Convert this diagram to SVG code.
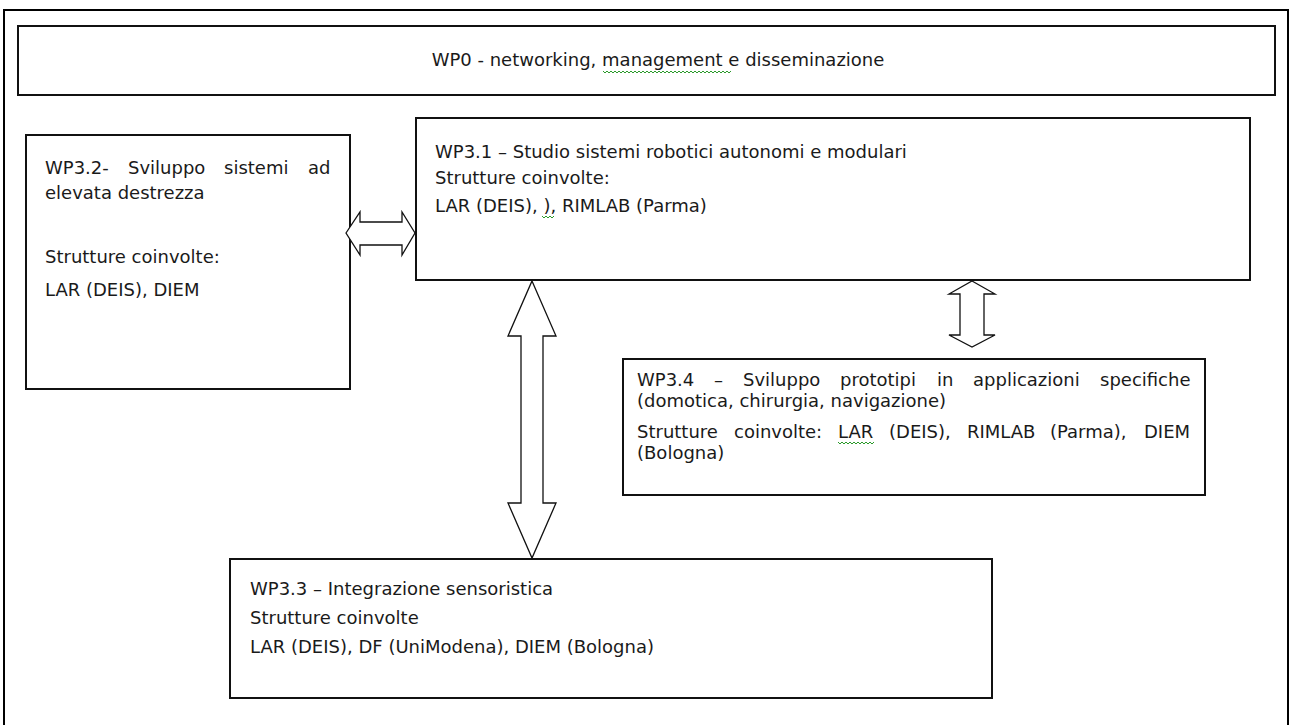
<svg xmlns="http://www.w3.org/2000/svg" width="1292" height="725" viewBox="0 0 1292 725">
<style>
.box{fill:#fff;stroke:#111;stroke-width:2}
.frame{fill:#fff;stroke:#000;stroke-width:2}
.arr{fill:#fff;stroke:#111;stroke-width:1.3;stroke-linejoin:miter}
text{font-family:"DejaVu Sans","Liberation Sans",sans-serif;font-size:18px;fill:#1a1a1a}
.sq{fill:none;stroke:#2a9a2a;stroke-width:1}
</style>
<rect class="frame" x="4" y="10" width="1284" height="730"/>
<g id="wp0">
<rect class="box" x="18" y="26" width="1257" height="69"/>
<text x="658" y="66" text-anchor="middle">WP0 - networking, management e disseminazione</text>
<path class="sq" d="M603 71 l2 2 l2 -2 l2 2 l2 -2 l2 2 l2 -2 l2 2 l2 -2 l2 2 l2 -2 l2 2 l2 -2 l2 2 l2 -2 l2 2 l2 -2 l2 2 l2 -2 l2 2 l2 -2 l2 2 l2 -2 l2 2 l2 -2 l2 2 l2 -2 l2 2 l2 -2 l2 2 l2 -2 l2 2 l2 -2 l2 2 l2 -2 l2 2 l2 -2 l2 2 l2 -2 l2 2 l2 -2 l2 2 l2 -2 l2 2 l2 -2 l2 2 l2 -2 l2 2 l2 -2 l2 2 l2 -2 l2 2 l2 -2 l2 2 l2 -2 l2 2 l2 -2 l2 2 l2 -2 l2 2 l2 -2 l2 2 l2 -2 l2 2 l2 -2"/>
</g>
<g id="wp31">
<rect class="box" x="416" y="118" width="834" height="162"/>
<text x="435" y="158">WP3.1 – Studio sistemi robotici autonomi e modulari</text>
<text x="435" y="184">Strutture coinvolte:</text>
<text x="435" y="212">LAR (DEIS), ), RIMLAB (Parma)</text>
<path class="sq" d="M542 216 l2 2 l2 -2 l2 2 l2 -2 l2 2 l2 -2"/>
</g>
<g id="wp32">
<rect class="box" x="26" y="135" width="324" height="254"/>
<text y="174"><tspan x="45">WP3.2-</tspan> <tspan x="128">Sviluppo</tspan> <tspan x="224">sistemi</tspan> <tspan x="308">ad</tspan></text>
<text x="45" y="199">elevata destrezza</text>
<text x="45" y="263">Strutture coinvolte:</text>
<text x="45" y="296">LAR (DEIS), DIEM</text>
</g>
<g id="wp34">
<rect class="box" x="623" y="359" width="582" height="136"/>
<text y="386"><tspan x="637">WP3.4</tspan> <tspan x="714">–</tspan> <tspan x="743">Sviluppo</tspan> <tspan x="840">prototipi</tspan> <tspan x="937">in</tspan> <tspan x="973">applicazioni</tspan> <tspan x="1100">specifiche</tspan></text>
<text x="637" y="407">(domotica, chirurgia, navigazione)</text>
<text y="438"><tspan x="637">Strutture</tspan> <tspan x="734">coinvolte:</tspan> <tspan x="838">LAR</tspan> <tspan x="889">(DEIS),</tspan> <tspan x="967">RIMLAB</tspan> <tspan x="1050">(Parma),</tspan> <tspan x="1144">DIEM</tspan></text>
<text x="637" y="459">(Bologna)</text>
<path class="sq" d="M838 442 l2 2 l2 -2 l2 2 l2 -2 l2 2 l2 -2 l2 2 l2 -2 l2 2 l2 -2 l2 2 l2 -2 l2 2 l2 -2 l2 2 l2 -2 l2 2 l2 -2"/>
</g>
<g id="wp33">
<rect class="box" x="230" y="559" width="762" height="139"/>
<text x="250" y="595">WP3.3 – Integrazione sensoristica</text>
<text x="250" y="624">Strutture coinvolte</text>
<text x="250" y="653">LAR (DEIS), DF (UniModena), DIEM (Bologna)</text>
</g>
<g id="connectors">
<polygon class="arr" points="346,233 360,212 360,222 402,222 402,212 415,233 402,255 402,245 360,245 360,255"/>
<polygon class="arr" points="532,281 556,336 543,336 543,503 556,503 532,558 508,503 521,503 521,336 508,336"/>
<polygon class="arr" points="972,281 995,294 984,294 984,335 995,335 972,347 949,335 960,335 960,294 949,294"/>
</g>
</svg>
